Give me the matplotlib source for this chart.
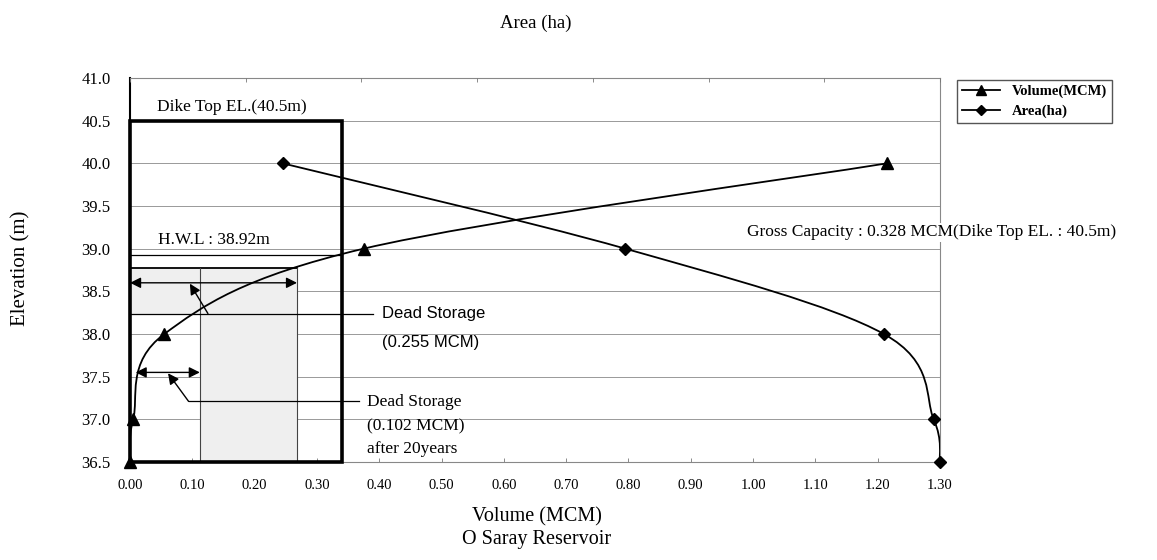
import numpy as np
import matplotlib.pyplot as plt
from matplotlib.path import Path
from matplotlib.patches import PathPatch, Rectangle

plt.rcParams['font.family'] = ['Liberation Serif', 'DejaVu Serif']

# data
elev_vol = [36.5, 37.0, 38.0, 39.0, 40.0]
volume = [0.000, 0.005, 0.055, 0.375, 1.215]
elev_area = [40.0, 39.0, 38.0, 37.0, 36.5]
area = [0.245, 0.795, 1.210, 1.290, 1.300]

dike_top = 40.5
box_right = 0.34
hwl = 38.92
dead_top = 38.77
dead_line = 38.24
dead_x1 = 0.112
dead_x2 = 0.268


# smoothed line like excel: catmull-rom turned into bezier path
def smooth_path(xs, ys):
    p = np.column_stack([xs, ys])
    p = np.vstack([p[0], p, p[-1]])
    verts = [p[1]]
    codes = [Path.MOVETO]
    for i in range(1, len(p) - 2):
        c1 = p[i] + (p[i + 1] - p[i - 1]) / 6
        c2 = p[i + 1] - (p[i + 2] - p[i]) / 6
        verts += [c1, c2, p[i + 1]]
        codes += [Path.CURVE4] * 3
    return Path(verts, codes)


fig = plt.figure(figsize=(11.57, 5.6), dpi=100)
ax = fig.add_axes([0.1124, 0.175, 0.70, 0.6857])
ax.set_xlim(0, 1.30)
ax.set_ylim(36.5, 41.0)

ax.set_yticks(np.arange(36.5, 41.01, 0.5))
ax.set_xticks(np.arange(0, 1.301, 0.1))
ax.set_yticklabels(['%.1f' % v for v in np.arange(36.5, 41.01, 0.5)], fontsize=12)
ax.set_xticklabels(['%.2f' % v for v in np.arange(0, 1.301, 0.1)], fontsize=10.5)
ax.tick_params(axis='x', direction='in', length=3, width=0.6, color='#777777', pad=12)
ax.tick_params(axis='y', length=0, pad=14)
ax.yaxis.grid(True, color='#999999', lw=0.7)
ax.set_axisbelow(True)
for s in ['top', 'right', 'bottom']:
    ax.spines[s].set_color('#888888')
    ax.spines[s].set_linewidth(0.8)
ax.spines['left'].set_linewidth(1.5)

# top (area) axis: ticks only
top = ax.twiny()
top.set_xlim(0, 1.4)
top.set_xticks(np.arange(0, 1.41, 0.2))
top.set_xticklabels([])
top.tick_params(axis='x', direction='in', length=3, width=0.6, color='#777777')
for s in top.spines.values():
    s.set_visible(False)

# dead storage shading
ax.add_patch(Rectangle((0, dead_line), dead_x2, dead_top - dead_line,
                       facecolor='#efefef', edgecolor='none', zorder=1))
ax.add_patch(Rectangle((dead_x1, 36.5), dead_x2 - dead_x1, dead_line - 36.5,
                       facecolor='#efefef', edgecolor='none', zorder=1))
ax.plot([0, dead_x2], [dead_top, dead_top], color='black', lw=1.3, zorder=3)
ax.plot([dead_x1, dead_x1], [36.5, dead_top], color='#444444', lw=0.8, zorder=3)
ax.plot([dead_x2, dead_x2], [36.5, dead_top], color='#444444', lw=0.8, zorder=3)
ax.plot([0, 0.39], [dead_line, dead_line], color='black', lw=0.9, zorder=3)
ax.plot([0, box_right], [hwl, hwl], color='black', lw=0.9, zorder=3)

# dike box
ax.add_patch(Rectangle((0, 36.5), box_right, dike_top - 36.5, fill=False,
                       edgecolor='black', lw=2.6, zorder=4, clip_on=False))

# curves
ax.add_patch(PathPatch(smooth_path(volume, elev_vol), fill=False, lw=1.3,
                       edgecolor='black', zorder=5))
ax.add_patch(PathPatch(smooth_path(area, elev_area), fill=False, lw=1.3,
                       edgecolor='black', zorder=5))
ax.plot(volume, elev_vol, ls='none', marker='^', ms=8, color='black', zorder=6,
        clip_on=False)
ax.plot(area, elev_area, ls='none', marker='D', ms=6, color='black', zorder=6,
        clip_on=False)

# arrows
arrow = dict(color='black', lw=1.0, mutation_scale=16, shrinkA=0, shrinkB=0)
ax.annotate('', xy=(0, 38.6), xytext=(dead_x2, 38.6),
            arrowprops=dict(arrowstyle='<|-|>', **arrow), zorder=7)
ax.annotate('', xy=(0.096, 38.59), xytext=(0.125, dead_line),
            arrowprops=dict(arrowstyle='-|>', **arrow), zorder=7)
ax.annotate('', xy=(0.009, 37.55), xytext=(dead_x1, 37.55),
            arrowprops=dict(arrowstyle='<|-|>', **arrow), zorder=7)
ax.plot([0.094, 0.367], [37.21, 37.21], color='black', lw=0.9, zorder=3)
ax.annotate('', xy=(0.061, 37.54), xytext=(0.094, 37.21),
            arrowprops=dict(arrowstyle='-|>', **arrow), zorder=7)

# texts
ax.text(0.043, 40.66, 'Dike Top EL.(40.5m)', fontsize=12.5, va='center')
ax.text(0.045, 39.10, 'H.W.L : 38.92m', fontsize=12.5, va='center')
ax.text(0.405, 38.24, 'Dead Storage', fontsize=12, va='center',
        family='Liberation Sans')
ax.text(0.405, 37.90, '(0.255 MCM)', fontsize=12, va='center',
        family='Liberation Sans')
ax.text(0.380, 37.20, 'Dead Storage', fontsize=12.5, va='center')
ax.text(0.380, 36.92, '(0.102 MCM)', fontsize=12.5, va='center')
ax.text(0.380, 36.65, 'after 20years', fontsize=12.5, va='center')
ax.text(0.99, 39.19, 'Gross Capacity : 0.328 MCM(Dike Top EL. : 40.5m)',
        fontsize=12.5, va='center', zorder=8, clip_on=False,
        bbox=dict(facecolor='white', edgecolor='none', pad=1))

leg_v, = ax.plot([], [], color='black', marker='^', ms=7, lw=1.3)
leg_a, = ax.plot([], [], color='black', marker='D', ms=5, lw=1.3)
ax.legend([leg_v, leg_a], ['Volume(MCM)', 'Area(ha)'], loc='upper left',
          bbox_to_anchor=(1.012, 1.015), prop=dict(size=10.5, weight='bold'),
          frameon=True, fancybox=False, edgecolor='#555555', framealpha=1,
          handlelength=2.6, borderpad=0.35, labelspacing=0.45)

fig.text(0.463, 0.958, 'Area (ha)', fontsize=13.5, ha='center', va='center')
fig.text(0.018, 0.52, 'Elevation (m)', fontsize=15, rotation=90,
         ha='center', va='center')
fig.text(0.464, 0.077, 'Volume (MCM)', fontsize=14.5, ha='center', va='center')
fig.text(0.464, 0.036, 'O Saray Reservoir', fontsize=14.5, ha='center',
         va='center')

plt.savefig('out.png', dpi=100)
